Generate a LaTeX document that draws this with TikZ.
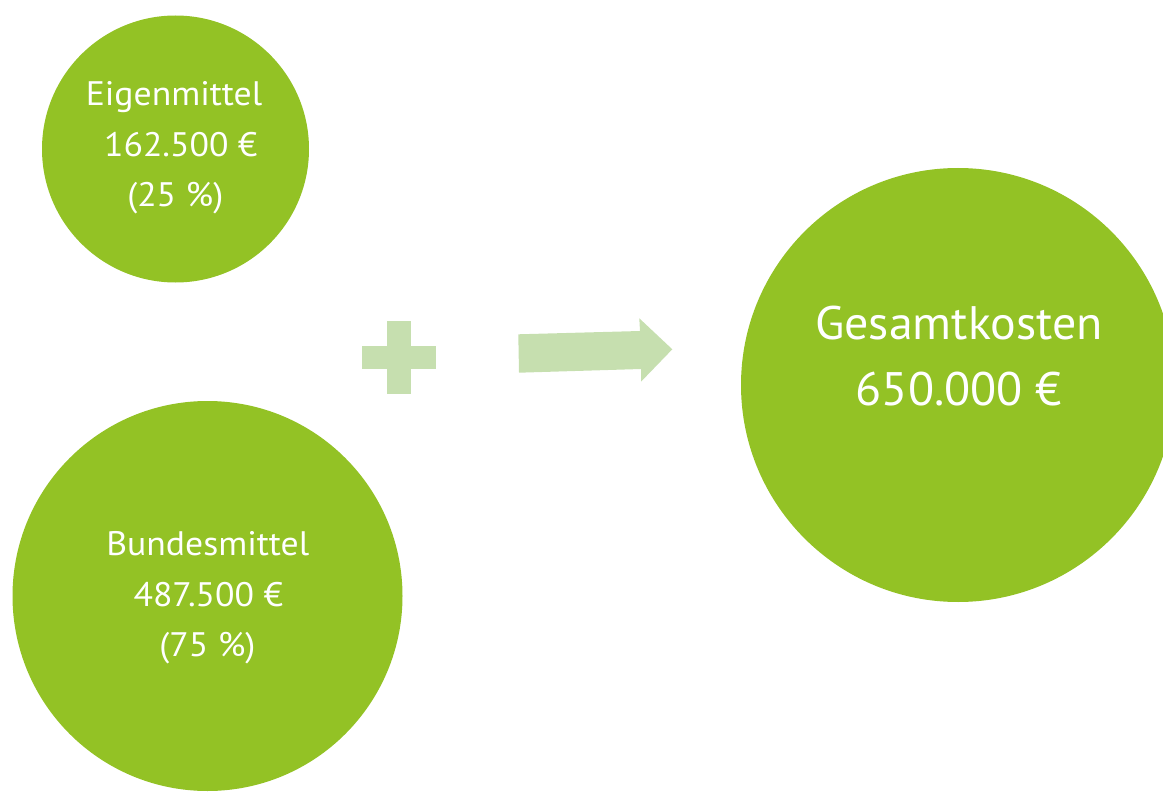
\documentclass[tikz,border=0pt]{standalone}
\usepackage{fontspec}
\setmainfont{PT Sans}
\newfontfamily\smallfam[FakeStretch=1.05]{PT Sans}
\newfontfamily\bigfam[FakeStretch=1.02]{PT Sans}
\definecolor{circgreen}{HTML}{93C225}
\definecolor{lightgreen}{HTML}{C6DFAF}
\tikzset{
  bubble/.style={circle, fill=circgreen, draw=none, inner sep=0pt},
  smalltxt/.style={text=white, anchor=base, inner sep=0pt, font=\smallfam\fontsize{34}{34}\selectfont},
  bigtxt/.style={text=white, anchor=base, inner sep=0pt, font=\bigfam\fontsize{47}{47}\selectfont},
  shapefill/.style={fill=lightgreen, draw=none}
}
\begin{document}
\begin{tikzpicture}[x=1pt, y=-1pt]
\useasboundingbox (0,0) rectangle (1163,797);
\clip (0,0) rectangle (1163,797);
% circles
\node[bubble, minimum size=267pt] (eigen) at (175.5,149) {};
\node[bubble, minimum size=390pt] (bund) at (207.5,596) {};
\node[bubble, minimum size=434pt] (gesamt) at (958,385) {};
% texts
\node[smalltxt] (e1) at (174,105.7) {Eigenmittel};
\node[smalltxt] (e2) at (180.8,156.7) {162.500 €};
\node[smalltxt] (e3) at (175.3,206.7) {(25 \%)};
\node[smalltxt] (b1) at (207.8,555.7) {Bundesmittel};
\node[smalltxt] (b2) at (208.3,606) {487.500 €};
\node[smalltxt] (b3) at (207.5,656.7) {(75 \%)};
\node[bigtxt] (g1) at (959,339.3) {Gesamtkosten};
\node[bigtxt] (g2) at (958.8,405) {650.000 €};
% plus sign
\fill[shapefill] (387.3,321) rectangle (410.7,394.3);
\fill[shapefill] (362.3,346) rectangle (435.7,369.3);
% arrow
\fill[shapefill] (518.3,334.3) -- (640,331) -- (639.3,318.3) -- (672.3,349.3)
  -- (641,381.7) -- (641,369) -- (519,372.7) -- cycle;
\end{tikzpicture}
\end{document}
